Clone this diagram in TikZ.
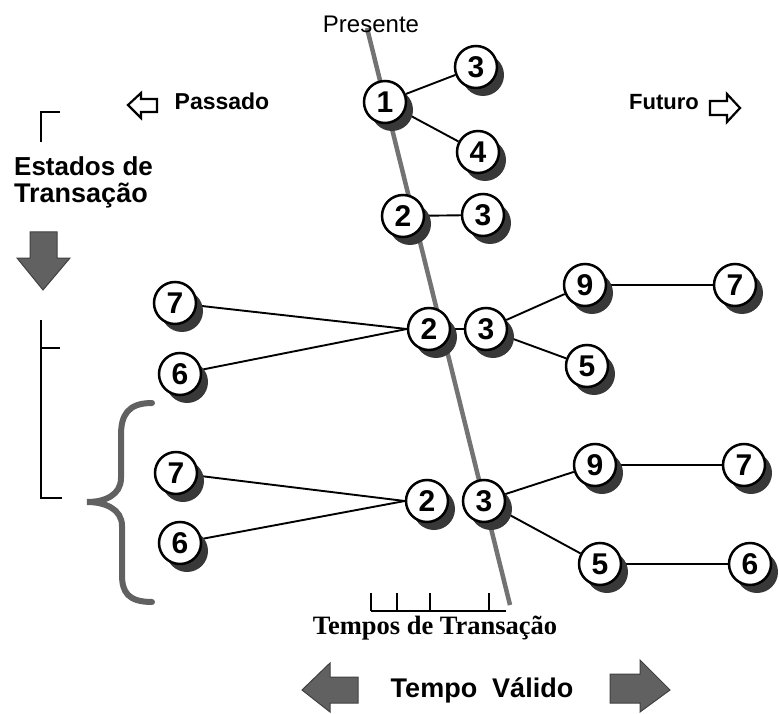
\documentclass[tikz,border=0pt]{standalone}
\usepackage{fontspec}
\setmainfont{Liberation Sans}
\newfontfamily\serifrm{Liberation Serif}
\usetikzlibrary{shadows}
\pgfdeclarelayer{bg}
\pgfsetlayers{bg,main}
\tikzset{
 ball/.style={circle, draw, line width=2.5pt, fill=white, minimum size=42pt, inner sep=0pt,
   font=\fontsize{30}{30}\selectfont\bfseries,
   drop shadow={shadow xshift=7pt, shadow yshift=-8pt, fill=black!78, opacity=1}},
 link/.style={line width=1.9pt},
 lbl/.style={inner sep=0pt, font=\fontsize{22}{22}\selectfont\bfseries},
 gline/.style={line width=4.5pt, draw=black!55},
 garrow/.style={fill=black!62, draw=black!75, line width=1pt},
 harrow/.style={draw, line width=2.2pt, fill=white, line join=miter},
 brk/.style={line width=2.5pt},
 tick/.style={line width=1.6pt}
}
\begin{document}
\begin{tikzpicture}[x=1pt,y=-1pt]
\useasboundingbox (0,0) rectangle (779,714);

% labels
\node[inner sep=0pt, font=\fontsize{24}{24}\selectfont] (pres) at (371,24) {Presente};
\node[lbl, font=\fontsize{23}{23}\selectfont\bfseries] (pass) at (222,101) {Passado};
\node[lbl] (fut) at (664,102) {Futuro};
\node[lbl, font=\fontsize{26}{26}\selectfont\bfseries, anchor=west] (est1) at (14,166) {Estados de};
\node[lbl, font=\fontsize{27}{27}\selectfont\bfseries, anchor=west] (est2) at (14,196) {Transação};
\node[inner sep=0pt, font=\fontsize{26.5}{26.5}\selectfont\serifrm\bfseries] (tt) at (435,628) {Tempos de Transação};
\node[inner sep=0pt, font=\fontsize{27}{27}\selectfont\bfseries] (tv) at (482,690) {Tempo\ \ Válido};

% timeline coordinates
\coordinate (tlA) at (367,28);
\coordinate (tlB) at (510,605);

% balls
\node[ball] (n1) at (385,102) {1};
\node[ball] (n3a) at (476,67) {3};
\node[ball] (n4) at (478,152) {4};
\node[ball] (n2b) at (403,216) {2};
\node[ball] (n3b) at (483,215) {3};
\node[ball] (l7a) at (175,303) {7};
\node[ball] (l6a) at (180,374) {6};
\node[ball] (n2c) at (429,329) {2};
\node[ball] (n3c) at (486,329) {3};
\node[ball] (n9c) at (585,285) {9};
\node[ball] (r7c) at (735,285) {7};
\node[ball] (n5c) at (587,366) {5};
\node[ball] (l7d) at (176,473) {7};
\node[ball] (l6d) at (180,543) {6};
\node[ball] (n2d) at (427,501) {2};
\node[ball] (n3d) at (484,501) {3};
\node[ball] (n9d) at (595,465) {9};
\node[ball] (r7d) at (744,465) {7};
\node[ball] (n5d) at (600,564) {5};
\node[ball] (r6d) at (750,564) {6};

\begin{pgfonlayer}{bg}
 \draw[gline] (tlA) -- (tlB);
 \draw[link] (n1) -- (n3a);
 \draw[link] (n1) -- (n4);
 \draw[link] (n2b) -- (n3b);
 \draw[link] (l7a) -- (n2c.west);
 \draw[link] (l6a) -- (n2c.west);
 \draw[link] (n2c) -- (n3c);
 \draw[link] (n3c) -- (n9c);
 \draw[link] (n3c) -- (n5c);
 \draw[link] (n9c) -- (r7c);
 \draw[link] (l7d) -- (n2d.west);
 \draw[link] (l6d) -- (n2d.west);
 \draw[link] (n3d) -- (n9d);
 \draw[link] (n3d) -- (n5d);
 \draw[link] (n9d) -- (r7d);
 \draw[link] (n5d) -- (r6d);
\end{pgfonlayer}

% tick scale
\draw[tick] (371,611) -- (506,611);
\foreach \tx in {371,397,430,489} \draw[tick] (\tx,593) -- (\tx,611);

% hollow arrows
\draw[harrow] (128,105) -- (141,93) -- (141,99) -- (157,99) -- (157,112) -- (141,112) -- (141,118) -- cycle;
\draw[harrow] (740,108) -- (727,94) -- (727,101) -- (710,101) -- (710,115) -- (727,115) -- (727,122) -- cycle;

% gray arrows
\draw[garrow] (43,290) -- (17,258) -- (30,258) -- (30,232) -- (57,232) -- (57,258) -- (70,258) -- cycle;
\draw[garrow] (302,690) -- (330,663) -- (330,677) -- (358,677) -- (358,703) -- (330,703) -- (330,712) -- cycle;
\draw[garrow] (670,690) -- (640,660) -- (640,674) -- (610,674) -- (610,703) -- (640,703) -- (640,712) -- cycle;

% brackets
\draw[brk] (60,112) -- (41,112) -- (41,142);
\draw[brk] (41,320) -- (41,498) -- (62,498);
\draw[brk] (41,348) -- (60,348);

% curly brace
\draw[line width=6pt, draw=black!62, line cap=round]
  (152,403) .. controls (128,403) and (121,415) .. (121,435) -- (121,478)
  .. controls (121,495) and (105,502) .. (87,502)
  .. controls (105,502) and (122,509) .. (122,526) -- (122,575)
  .. controls (122,592) and (128,602) .. (152,602);
\end{tikzpicture}
\end{document}
